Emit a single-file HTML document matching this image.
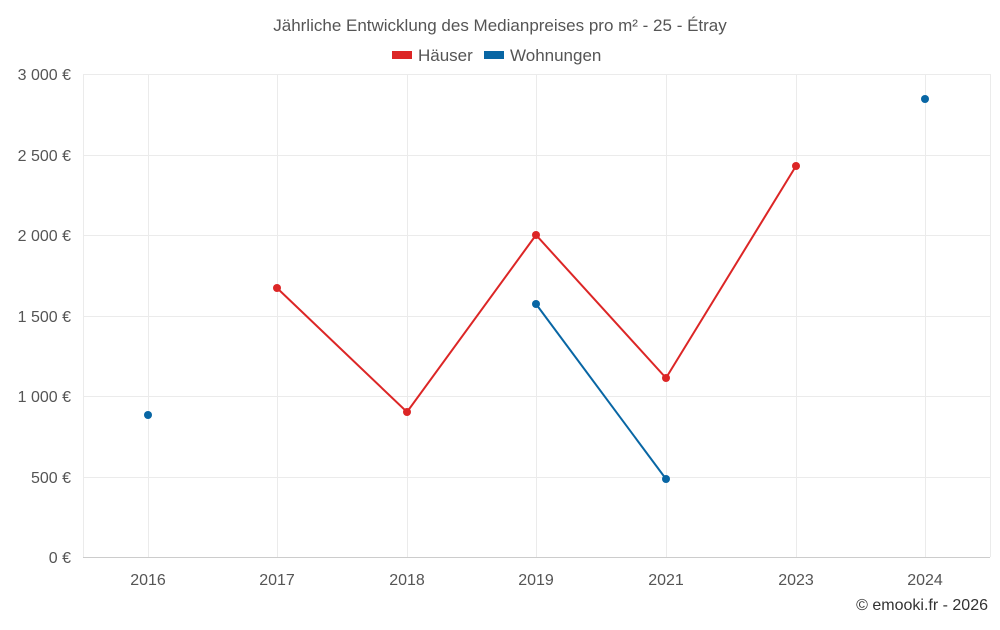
<!DOCTYPE html>
<html><head><meta charset="utf-8"><style>
body{margin:0;background:#fff;}
svg text{font-family:"Liberation Sans",sans-serif;fill:#555;}
</style></head><body>
<svg width="1000" height="625" xmlns="http://www.w3.org/2000/svg">
<text x="500" y="31" text-anchor="middle" font-size="17">Jährliche Entwicklung des Medianpreises pro m² - 25 - Étray</text>
<rect x="392" y="51" width="20" height="8" fill="#dc2626"/>
<text x="418" y="61" font-size="17">Häuser</text>
<rect x="484" y="51" width="20" height="8" fill="#0866a4"/>
<text x="510" y="61" font-size="17">Wohnungen</text>
<g stroke="#ebebeb" stroke-width="1">
<line x1="83" y1="74.5" x2="990" y2="74.5"/><line x1="83" y1="155.5" x2="990" y2="155.5"/>
<line x1="83" y1="235.5" x2="990" y2="235.5"/><line x1="83" y1="316.5" x2="990" y2="316.5"/>
<line x1="83" y1="396.5" x2="990" y2="396.5"/><line x1="83" y1="477.5" x2="990" y2="477.5"/>
<line x1="83.5" y1="74" x2="83.5" y2="557"/><line x1="148.5" y1="74" x2="148.5" y2="557"/>
<line x1="277.5" y1="74" x2="277.5" y2="557"/><line x1="407.5" y1="74" x2="407.5" y2="557"/>
<line x1="536.5" y1="74" x2="536.5" y2="557"/><line x1="666.5" y1="74" x2="666.5" y2="557"/>
<line x1="796.5" y1="74" x2="796.5" y2="557"/><line x1="925.5" y1="74" x2="925.5" y2="557"/>
<line x1="990.5" y1="74" x2="990.5" y2="557"/>
</g>
<line x1="83" y1="557.5" x2="990" y2="557.5" stroke="#ccc"/>
<g font-size="16" text-anchor="end">
<text x="71" y="80">3 000 €</text><text x="71" y="161">2 500 €</text>
<text x="71" y="241">2 000 €</text><text x="71" y="322">1 500 €</text>
<text x="71" y="402">1 000 €</text><text x="71" y="483">500 €</text>
<text x="71" y="563">0 €</text>
</g>
<g font-size="16" text-anchor="middle">
<text x="148" y="585">2016</text><text x="277" y="585">2017</text><text x="407" y="585">2018</text>
<text x="536" y="585">2019</text><text x="666" y="585">2021</text><text x="796" y="585">2023</text>
<text x="925" y="585">2024</text>
</g>
<polyline points="277,288 407,412 536,235 666,378 796,166" fill="none" stroke="#dc2626" stroke-width="2"/>
<g fill="#dc2626"><circle cx="277" cy="288" r="4"/><circle cx="407" cy="412" r="4"/><circle cx="536" cy="235" r="4"/><circle cx="666" cy="378" r="4"/><circle cx="796" cy="166" r="4"/></g>
<polyline points="536,304 666,479" fill="none" stroke="#0866a4" stroke-width="2"/>
<g fill="#0866a4"><circle cx="148" cy="415" r="4"/><circle cx="536" cy="304" r="4"/><circle cx="666" cy="479" r="4"/><circle cx="925" cy="99" r="4"/></g>
<text x="988" y="610" font-size="16" text-anchor="end" style="fill:#333">© emooki.fr - 2026</text>
</svg>
</body></html>
